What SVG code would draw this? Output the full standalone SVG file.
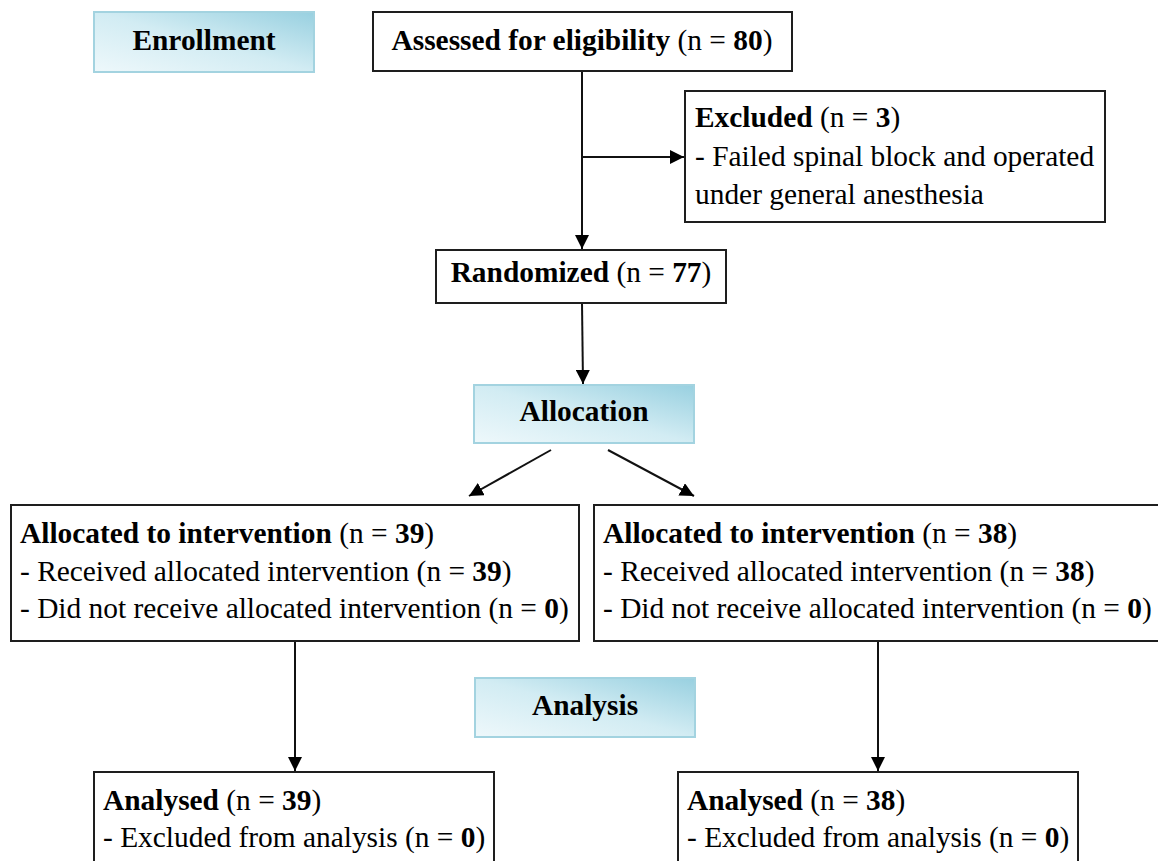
<svg xmlns="http://www.w3.org/2000/svg" width="1158" height="861" viewBox="0 0 1158 861">
<style>
.box{fill:#fff;stroke:#1e1e1e;stroke-width:2}
.hdr{fill:url(#g);stroke:#a3d3e0;stroke-width:2}
.t{font-family:"Liberation Serif","Times New Roman",serif;font-size:29.4px;fill:#000}
.b{font-weight:bold}
.c{text-anchor:middle}
.ln{stroke:#111;stroke-width:2;fill:none}
</style>
<defs>
<linearGradient id="g" x1="0" y1="1" x2="1" y2="0">
<stop offset="0" stop-color="#eef8fb"/>
<stop offset="0.5" stop-color="#d2ecf3"/>
<stop offset="1" stop-color="#98d0e0"/>
</linearGradient>
<marker id="a" viewBox="0 0 10 10" refX="10" refY="5" markerWidth="14" markerHeight="14" markerUnits="userSpaceOnUse" orient="auto">
<path d="M0,0 L10,5 L0,10 Z" fill="#000"/>
</marker>
</defs>
<g id="connectors">
<line class="ln" x1="582" y1="71" x2="582" y2="249" marker-end="url(#a)"/>
<line class="ln" x1="582" y1="157" x2="684" y2="157" marker-end="url(#a)"/>
<line class="ln" x1="582" y1="303" x2="583" y2="384" marker-end="url(#a)"/>
<line class="ln" x1="551" y1="450" x2="469" y2="496" marker-end="url(#a)"/>
<line class="ln" x1="608" y1="450" x2="694" y2="496" marker-end="url(#a)"/>
<line class="ln" x1="295" y1="641" x2="295" y2="771" marker-end="url(#a)"/>
<line class="ln" x1="878" y1="641" x2="878" y2="771" marker-end="url(#a)"/>
</g>
<g id="enrollment">
<rect class="hdr" x="94" y="12" width="220" height="60"/>
<text class="t b c" x="204" y="50">Enrollment</text>
</g>
<g id="assessed">
<rect class="box" x="373" y="12" width="419" height="59"/>
<text class="t c" x="582" y="50"><tspan class="b">Assessed for eligibility</tspan> (n = <tspan class="b">80</tspan>)</text>
</g>
<g id="excluded">
<rect class="box" x="685" y="91" width="420" height="131"/>
<text class="t" x="695" y="127"><tspan class="b">Excluded</tspan> (n = <tspan class="b">3</tspan>)</text>
<text class="t" x="695" y="166">- Failed spinal block and operated</text>
<text class="t" x="695" y="204">under general anesthesia</text>
</g>
<g id="randomized">
<rect class="box" x="436" y="250" width="290" height="53"/>
<text class="t c" x="581" y="282"><tspan class="b">Randomized</tspan> (n = <tspan class="b">77</tspan>)</text>
</g>
<g id="allocation">
<rect class="hdr" x="474" y="385" width="220" height="58"/>
<text class="t b c" x="584" y="421">Allocation</text>
</g>
<g id="alloc-left">
<rect class="box" x="11" y="505" width="568" height="136"/>
<text class="t" x="20" y="543"><tspan class="b">Allocated to intervention</tspan> (n = <tspan class="b">39</tspan>)</text>
<text class="t" x="20" y="581">- Received allocated intervention (n = <tspan class="b">39</tspan>)</text>
<text class="t" x="20" y="618">- Did not receive allocated intervention (n = <tspan class="b">0</tspan>)</text>
</g>
<g id="alloc-right">
<rect class="box" x="594" y="505" width="570" height="136"/>
<text class="t" x="603" y="543"><tspan class="b">Allocated to intervention</tspan> (n = <tspan class="b">38</tspan>)</text>
<text class="t" x="603" y="581">- Received allocated intervention (n = <tspan class="b">38</tspan>)</text>
<text class="t" x="603" y="618">- Did not receive allocated intervention (n = <tspan class="b">0</tspan>)</text>
</g>
<g id="analysis">
<rect class="hdr" x="475" y="678" width="220" height="59"/>
<text class="t b c" x="585" y="715">Analysis</text>
</g>
<g id="analysed-left">
<rect class="box" x="94" y="772" width="400" height="100"/>
<text class="t" x="103" y="810"><tspan class="b">Analysed</tspan> (n = <tspan class="b">39</tspan>)</text>
<text class="t" x="103" y="847">- Excluded from analysis (n = <tspan class="b">0</tspan>)</text>
</g>
<g id="analysed-right">
<rect class="box" x="678" y="772" width="400" height="100"/>
<text class="t" x="687" y="810"><tspan class="b">Analysed</tspan> (n = <tspan class="b">38</tspan>)</text>
<text class="t" x="687" y="847">- Excluded from analysis (n = <tspan class="b">0</tspan>)</text>
</g>
</svg>
